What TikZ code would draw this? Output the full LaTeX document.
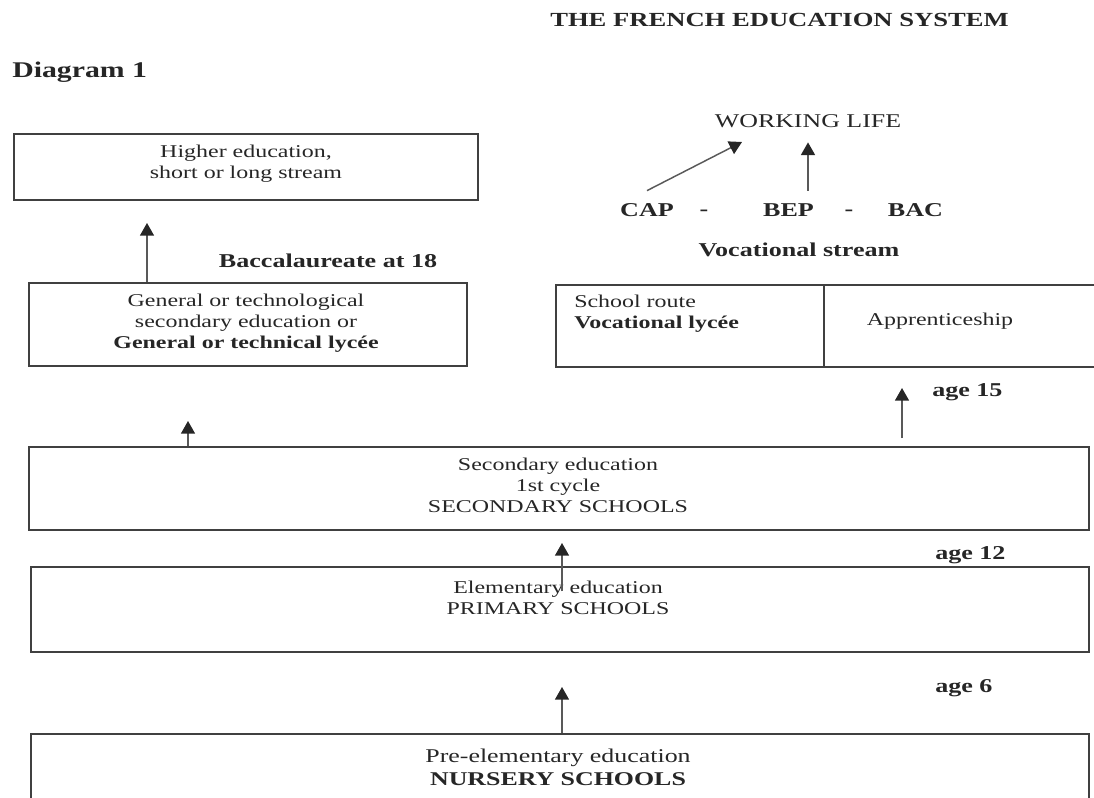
\documentclass[tikz,border=0pt]{standalone}
\usepackage{fontspec}
\setmainfont{Liberation Serif}[FakeStretch=1.33]
\usetikzlibrary{arrows.meta,fit}

\tikzset{
  box/.style={draw=black!75, line width=1.3pt, inner sep=0pt},
  txt/.style={font=\fontsize{13.5}{15.75}\selectfont, text=black!85, align=center, inner sep=0pt},
  lbl/.style={font=\fontsize{14.7}{17}\selectfont\bfseries, text=black!85, inner sep=0pt},
  arr/.style={draw=black!65, line width=1.1pt, -{Triangle[length=9.5pt,width=10.5pt,color=black!85]}}
}

\begin{document}
\begin{tikzpicture}[x=0.75pt, y=-0.75pt]
        \useasboundingbox (0,0) rectangle (1094,798);
        \clip (0,0) rectangle (1094,798);

        % Titles
        \node[lbl, font=\fontsize{15}{17}\selectfont\bfseries] (title) at (779.5,20) {THE FRENCH EDUCATION SYSTEM};
        \node[lbl, font=\fontsize{16.8}{19}\selectfont\bfseries, anchor=west] (diag) at (12,72) {Diagram 1};

        % General route
        \node[box, fit={(14,134) (478,200)}] (higher) {};
        \node[txt] (highertxt) at (246,164) {Higher education,\\short or long stream};
        \node[lbl] (bac18) at (328,261) {Baccalaureate at 18};
        \node[box, fit={(29,283) (467,366)}] (general) {};
        \node[txt] (generaltxt) at (246,323) {General or technological\\secondary education or\\\textbf{General or technical lycée}};

        % Vocational route
        \node[txt, font=\fontsize{14.6}{17}\selectfont] (work) at (808,121) {WORKING LIFE};
        \node[lbl] (cap) at (647,210) {CAP};
        \node[lbl] (dasha) at (704,213) {-};
        \node[lbl] (bep) at (788.5,210) {BEP};
        \node[lbl] (dashb) at (849,213) {-};
        \node[lbl] (bac) at (915.5,210) {BAC};
        \node[lbl] (vocstream) at (799,250) {Vocational stream};
        \node[box, fit={(556,285) (824,367)}] (school) {};
        \node[box, fit={(824,285) (1097,367)}] (appr) {};
        \node[txt, align=left, anchor=west] (schooltxt) at (574,314) {School route\\\textbf{Vocational lycée}};
        \node[txt] (apprtxt) at (940,321) {Apprenticeship};

        % Ages
        \node[lbl, anchor=west] (age15) at (932,392) {age 15};
        \node[lbl, anchor=west] (age12) at (935,555) {age 12};
        \node[lbl, anchor=west] (age6) at (935,688) {age 6};

        % Compulsory schooling
        \node[box, fit={(29,447) (1089,530)}] (secondary) {};
        \node[txt] (secondarytxt) at (558,485.5) {Secondary education\\1st cycle\\SECONDARY SCHOOLS};
        \node[box, fit={(31,567) (1089,652)}] (elementary) {};
        \node[txt] (elementarytxt) at (558,598) {Elementary education\\PRIMARY SCHOOLS};
        \node[box, fit={(31,734) (1089,801)}] (nursery) {};
        \node[txt, font=\fontsize{14.6}{17.25}\selectfont] (nurserytxt) at (558,767) {Pre-elementary education\\\textbf{NURSERY SCHOOLS}};

        % Arrows
        \coordinate (hightip) at (147,223);
        \coordinate (gentip) at (188,421);
        \coordinate (voctip) at (902,388);
        \coordinate (elemtip) at (562,543);
        \coordinate (nurstip) at (562,687);
        \coordinate (wltip) at (742,142);
        \draw[arr] (general.north -| hightip) -- (hightip);
        \draw[arr] (secondary.north -| gentip) -- (gentip);
        \draw[arr, shorten <=6pt] (secondary.north -| voctip) -- (voctip);
        \draw[arr, shorten <=-19pt] (elementary.north -| elemtip) -- (elemtip);
        \draw[arr] (nursery.north -| nurstip) -- (nurstip);
        \draw[arr] ([yshift=9.4pt]cap.north) -- (wltip);
        \draw[arr, shorten <=9.4pt, shorten >=10.9pt] (bep.north -| work.south) -- (work.south);
    \end{tikzpicture}
\end{document}
